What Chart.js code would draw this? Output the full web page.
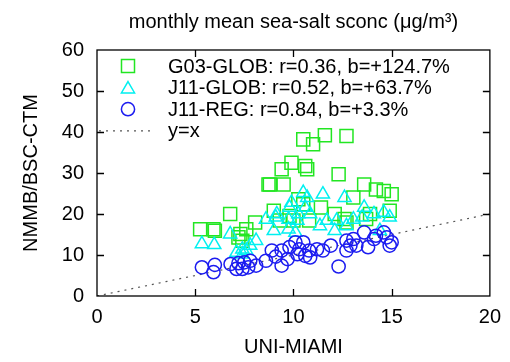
<!DOCTYPE html>
<html>
<head>
<meta charset="utf-8">
<script src="https://cdn.jsdelivr.net/npm/chart.js@4/dist/chart.umd.min.js"></script>
<style>
  html, body { margin: 0; padding: 0; background: #ffffff; }
  #wrap { width: 510px; height: 362px; }
</style>
</head>
<body>
<div id="wrap"><canvas id="c" width="510" height="362"></canvas></div>
<script>
// Monthly mean sea-salt surface concentration: UNI-MIAMI observations (x) vs NMMB/BSC-CTM (y)
const seriesLabels = [
  'G03-GLOB: r=0.36, b=+124.7%',
  'J11-GLOB: r=0.52, b=+63.7%',
  'J11-REG: r=0.84, b=+3.3%'
];
const refLabel = 'y=x';

const g03X = [5.25, 5.93, 6.0, 6.78, 7.2, 7.3, 7.4, 7.6, 8.05, 8.73, 8.8, 9.0, 9.3, 9.4, 9.5, 9.8, 9.9, 10.0, 10.25,
  10.5, 10.5, 10.6, 10.7, 10.8, 11.0, 11.4, 11.6, 12.1, 12.3, 12.6, 12.7, 12.7, 13.05, 13.6, 13.7, 13.9, 14.2, 14.6, 14.9, 15.0];
const g03Y = [16.3, 16.3, 15.9, 20.0, 14.3, 15.1, 13.5, 16.3, 17.9, 27.2, 27.2, 20.8, 18.4, 30.9, 27.2, 19.5, 32.5, 18.4, 23.6,
  38.2, 22.4, 31.7, 30.9, 18.4, 37.0, 21.6, 39.2, 20.0, 29.7, 18.8, 39.0, 17.9, 24.0, 27.2, 18.8, 20.0, 26.0, 25.6, 20.8, 24.8];

const j11gX = [5.34, 5.97, 6.78, 7.1, 7.4, 7.4, 7.6, 7.8, 8.1, 8.6, 9.0, 9.1, 9.15, 9.75, 9.75, 9.8, 9.9, 10.1, 10.2,
  10.25, 10.5, 10.6, 10.7, 10.85, 11.35, 11.5, 11.7, 12.1, 12.2, 12.6, 12.7, 13.05, 13.5, 13.6, 14.1, 14.4, 14.6, 14.9];
const j11gY = [12.7, 12.5, 15.1, 10.6, 11.4, 10.2, 11.1, 12.3, 13.5, 18.7, 15.9, 19.2, 20.0, 16.3, 18.7, 21.6, 22.8, 15.5, 18.4,
  20.0, 25.2, 21.6, 24.0, 20.0, 17.1, 24.8, 18.4, 15.9, 18.4, 24.0, 17.1, 18.7, 19.2, 21.6, 20.0, 15.9, 20.4, 19.2];

const j11rX = [5.34, 5.93, 6.0, 6.8, 7.1, 7.2, 7.4, 7.5, 7.7, 7.8, 8.1, 8.6, 8.9, 9.1, 9.4, 9.4, 9.7, 9.8, 10.1, 10.2, 10.3,
  10.5, 10.6, 10.8, 10.85, 11.2, 11.5, 11.9, 12.3, 12.7, 12.7, 12.9, 13.05, 13.2, 13.6, 13.8, 14.1, 14.2, 14.6, 14.75, 14.9, 15.0];
const j11rY = [7.0, 5.8, 7.6, 7.8, 6.6, 8.0, 6.6, 8.2, 7.0, 8.6, 7.4, 8.6, 11.1, 9.6, 7.4, 11.1, 9.0, 11.9, 13.1, 10.2, 11.4,
  13.1, 9.8, 11.1, 9.4, 11.4, 11.1, 12.3, 7.2, 11.1, 13.5, 12.3, 13.9, 12.3, 15.5, 11.9, 13.9, 14.7, 15.5, 14.3, 12.3, 13.1];

const xTicks = [0, 5, 10, 15, 20];
const yTicks = [0, 10, 20, 30, 40, 50, 60];
const refLine = [0, 20];

const colors = ['#22e622', '#00f0f0', '#1c1cf0'];
const styles = ['rect', 'triangle', 'circle'];
const radii = [9.2, 7.6, 6.6];
const FONT = '"Liberation Sans", Arial, Helvetica, sans-serif';

function toPoints(xs, ys) { return xs.map((x, i) => ({ x: x, y: ys[i] })); }

// inward tick marks on all four sides plus the plot frame
const framePlugin = {
  id: 'frame',
  afterDatasetsDraw(chart) {
    const { ctx, chartArea: a, scales: { x, y } } = chart;
    ctx.save();
    ctx.strokeStyle = '#000';
    ctx.lineWidth = 1.3;
    const len = 7;
    ctx.beginPath();
    xTicks.forEach(v => {
      if (v === xTicks[0] || v === xTicks[xTicks.length - 1]) return;
      const px = Math.round(x.getPixelForValue(v)) + 0.5;
      ctx.moveTo(px, a.bottom); ctx.lineTo(px, a.bottom - len);
      ctx.moveTo(px, a.top); ctx.lineTo(px, a.top + len);
    });
    yTicks.forEach(v => {
      if (v === yTicks[0] || v === yTicks[yTicks.length - 1]) return;
      const py = Math.round(y.getPixelForValue(v)) + 0.5;
      ctx.moveTo(a.left, py); ctx.lineTo(a.left + len, py);
      ctx.moveTo(a.right, py); ctx.lineTo(a.right - len, py);
    });
    ctx.stroke();
    ctx.strokeRect(a.left, a.top, a.right - a.left, a.bottom - a.top);
    ctx.restore();
  }
};

// key in the upper-left corner of the plot
const keyPlugin = {
  id: 'key',
  afterDatasetsDraw(chart) {
    const { ctx, chartArea: a } = chart;
    const markX = a.left + 31;
    const textX = a.left + 71;
    const row0 = a.top + 16;
    const step = 21.6;
    ctx.save();
    ctx.font = '20px ' + FONT;
    ctx.textBaseline = 'middle';
    ctx.textAlign = 'left';
    for (let i = 0; i < 3; i++) {
      const yy = row0 + i * step;
      ctx.strokeStyle = colors[i];
      ctx.fillStyle = 'rgba(0,0,0,0)';
      ctx.lineWidth = 1.5;
      Chart.helpers.drawPoint(ctx, { pointStyle: styles[i], radius: radii[i], borderWidth: 1.5, rotation: 0 }, markX, yy + (i === 1 ? 1.5 : 0));
      ctx.fillStyle = '#000';
      ctx.fillText(seriesLabels[i], textX, yy + 1);
    }
    const yy = row0 + 3 * step;
    ctx.strokeStyle = '#555';
    ctx.lineWidth = 1.2;
    ctx.setLineDash([2, 5]);
    ctx.beginPath();
    ctx.moveTo(a.left + 2, yy); ctx.lineTo(a.left + 58, yy);
    ctx.stroke();
    ctx.setLineDash([]);
    ctx.fillStyle = '#000';
    ctx.fillText(refLabel, textX, yy + 1);
    ctx.restore();
  }
};

const makeSet = (i, pts) => ({
  label: seriesLabels[i],
  data: pts,
  showLine: false,
  pointStyle: styles[i],
  pointRadius: radii[i],
  pointHoverRadius: radii[i],
  pointBorderWidth: 1.5,
  pointBorderColor: colors[i],
  pointBackgroundColor: 'rgba(0,0,0,0)',
  borderColor: colors[i],
  order: 2 - i
});

new Chart(document.getElementById('c'), {
  type: 'scatter',
  data: {
    datasets: [
      makeSet(0, toPoints(g03X, g03Y)),
      makeSet(1, toPoints(j11gX, j11gY)),
      makeSet(2, toPoints(j11rX, j11rY)),
      {
        label: refLabel,
        type: 'line',
        data: toPoints(refLine, refLine),
        borderColor: '#555',
        borderWidth: 1.2,
        borderDash: [2, 5],
        pointRadius: 0,
        fill: false,
        order: 5
      }
    ]
  },
  options: {
    responsive: false,
    animation: false,
    events: [],
    layout: { padding: { left: 0, right: 20, top: 0, bottom: 0 } },
    plugins: {
      legend: { display: false },
      tooltip: { enabled: false },
      title: {
        display: true,
        fullSize: false,
        text: 'monthly mean sea-salt sconc (\u03bcg/m\u00b3)',
        color: '#000',
        font: { family: FONT, size: 20, weight: 'normal' },
        padding: { top: 10, bottom: 16 }
      }
    },
    scales: {
      x: {
        type: 'linear',
        min: 0, max: 20,
        afterBuildTicks: s => { s.ticks = xTicks.map(v => ({ value: v })); },
        afterFit: s => { s.height = 66; },
        grid: { display: false, drawTicks: false },
        border: { display: false },
        ticks: { color: '#000', font: { family: FONT, size: 20 }, padding: 9, maxRotation: 0 },
        title: {
          display: true, text: 'UNI-MIAMI', color: '#000',
          font: { family: FONT, size: 20 }, padding: { top: 0, bottom: 3 }
        }
      },
      y: {
        type: 'linear',
        min: 0, max: 60,
        afterBuildTicks: s => { s.ticks = yTicks.map(v => ({ value: v })); },
        afterFit: s => { s.width = 97; },
        grid: { display: false, drawTicks: false },
        border: { display: false },
        ticks: { color: '#000', font: { family: FONT, size: 20 }, padding: 13 },
        title: {
          display: true, text: 'NMMB/BSC-CTM', color: '#000',
          font: { family: FONT, size: 20 }, padding: { top: 19, bottom: 0 }
        }
      }
    }
  },
  plugins: [framePlugin, keyPlugin]
});
</script>
</body>
</html>
